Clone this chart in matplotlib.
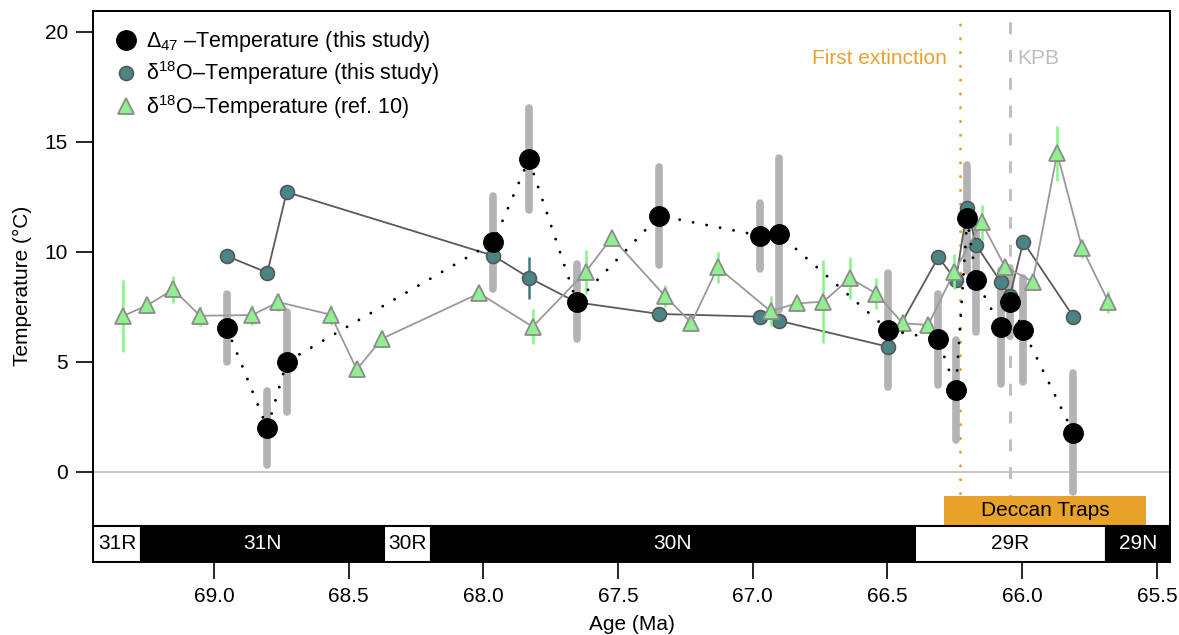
import numpy as np
import matplotlib
matplotlib.use("Agg")
import matplotlib.pyplot as plt
from matplotlib.patches import Rectangle
from matplotlib.lines import Line2D

plt.rcParams['font.family'] = ['Liberation Sans', 'DejaVu Sans']
plt.rcParams['mathtext.fontset'] = 'custom'
plt.rcParams['mathtext.rm'] = 'Liberation Sans'
plt.rcParams['mathtext.it'] = 'Liberation Sans'

# samples of this study (same ages for clumped and d18O temperatures)
sample_age = [68.952, 68.802, 68.730, 67.963, 67.831, 67.654, 67.347, 66.973, 66.902,
              66.497, 66.311, 66.246, 66.204, 66.171, 66.080, 66.045, 65.996, 65.810]
d47_temp = [6.53, 1.97, 5.00, 10.43, 14.20, 7.73, 11.64, 10.73, 10.80,
            6.44, 6.02, 3.71, 11.52, 8.71, 6.59, 7.73, 6.44, 1.77]
d47_err = [1.56, 1.68, 2.27, 2.12, 2.31, 1.70, 2.23, 1.50, 3.45,
           2.60, 2.08, 2.27, 2.40, 2.35, 2.58, 1.55, 2.35, 2.70]
d18o_temp = [9.80, 9.05, 12.71, 9.82, 8.82, 7.70, 7.17, 7.05, 6.86,
             5.68, 9.75, 8.71, 11.97, 10.30, 8.64, 8.00, 10.45, 7.05]
d18o_err = [0, 0, 0, 0, 0.95, 0, 0, 0, 0, 0, 0, 0, 0, 0, 0, 0, 0, 0]

# d18O temperatures from ref. 10
ref_age = [69.337, 69.248, 69.151, 69.052, 68.859, 68.761, 68.567, 68.470, 68.376, 68.015,
           67.817, 67.620, 67.523, 67.326, 67.228, 67.130, 66.934, 66.837, 66.738, 66.639,
           66.541, 66.444, 66.349, 66.252, 66.150, 66.064, 65.961, 65.870, 65.777, 65.680]
ref_temp = [7.08, 7.56, 8.29, 7.09, 7.12, 7.71, 7.14, 4.65, 6.05, 8.11,
            6.59, 9.09, 10.64, 7.99, 6.77, 9.29, 7.30, 7.65, 7.73, 8.79,
            8.10, 6.75, 6.67, 9.09, 11.33, 9.32, 8.64, 14.47, 10.15, 7.73]
ref_err = [1.62, 0.3, 0.6, 0.45, 0.45, 0.4, 0.45, 0.3, 0.4, 0.3,
           0.8, 1.0, 0.3, 0.5, 0.3, 0.7, 0.68, 0.3, 1.9, 0.95,
           0.7, 0.4, 0.3, 0.8, 0.8, 0.3, 0.3, 1.25, 0.45, 0.5]

# magnetochrons (label, start, end, reversed?)
chron_names = ['31R', '31N', '30R', '30N', '29R', '29N']
chron_start = [69.449, 69.270, 68.369, 68.196, 66.398, 65.688]
chron_end = [69.270, 68.369, 68.196, 66.398, 65.688, 65.451]
chron_rev = [True, False, True, False, True, False]

first_extinction = 66.23
kpb = 66.045
deccan = (66.29, 65.54)

xlim = (69.449, 65.451)
ylim = (-4.08, 20.94)

fig = plt.figure(figsize=(11.79, 6.35), dpi=100)
ax = fig.add_axes([0.0789, 0.1157, 0.9135, 0.867])

ax.axhline(0, color='#bdbdbd', lw=1.2, zorder=1)
ax.axvline(first_extinction, color='#e8a030', lw=2.2, dashes=(0.01, 4.5),
           dash_capstyle='round', zorder=1)
ax.axvline(kpb, color='#c0c0c0', lw=2.2, dashes=(3.9, 5.2), zorder=1)
ax.text(66.28, 18.8, 'First extinction', color='#e8a030', fontsize=15,
        ha='right', va='center')
ax.text(66.019, 18.8, 'KPB', color='#bdbdbd', fontsize=15, ha='left', va='center')

# Deccan Traps and chron bar
ax.add_patch(Rectangle((deccan[1], -2.42), deccan[0] - deccan[1], 1.33,
                       facecolor='#e9a229', edgecolor='none', zorder=6))
ax.text(np.mean(deccan), -1.755, 'Deccan Traps', fontsize=15, ha='center',
        va='center', zorder=7)
for name, s, e, rev in zip(chron_names, chron_start, chron_end, chron_rev):
    ax.add_patch(Rectangle((e, ylim[0]), s - e, 1.6,
                           facecolor='white' if rev else 'black',
                           edgecolor='black', lw=1.5, zorder=6))
    ax.text((s + e) / 2, ylim[0] + 0.8, name, fontsize=15, ha='center', va='center',
            color='black' if rev else 'white', zorder=7)

# clumped error bars
lo = np.array(d47_temp) - np.array(d47_err)
hi = np.array(d47_temp) + np.array(d47_err)
ax.vlines(sample_age, lo, hi, colors='#b3b3b3', lw=5.5, capstyle='round', zorder=2)

# d18O this study
ax.plot(sample_age, d18o_temp, color='#5a5a5a', lw=1.3, zorder=3)
for a, t, e in zip(sample_age, d18o_temp, d18o_err):
    if e > 0:
        ax.vlines(a, t - e, t + e, colors='#3f7c7c', lw=1.8, zorder=3)
ax.plot(sample_age, d18o_temp, 'o', ms=10, mfc='#4a8585', mec='#555555', mew=1.2,
        ls='none', zorder=3.5)

# d18O ref. 10
rl = np.array(ref_temp) - np.array(ref_err)
rh = np.array(ref_temp) + np.array(ref_err)
ax.vlines(ref_age, rl, rh, colors='#85f585', lw=1.8, zorder=4)
ax.plot(ref_age, ref_temp, color='#999999', lw=1.3, zorder=4)
ax.plot(ref_age, ref_temp, '^', ms=12, mfc='#90f090', mec='#8c8c8c', mew=1.3,
        ls='none', zorder=4.5)

# clumped temperatures
ax.plot(sample_age, d47_temp, color='black', lw=2.1, dashes=(0.01, 4.7),
        dash_capstyle='round', zorder=5)
ax.plot(sample_age, d47_temp, 'o', ms=14, color='black', ls='none', zorder=5.5)

handles = [
    Line2D([], [], marker='o', ms=14, color='black', ls='none'),
    Line2D([], [], marker='o', ms=10, mfc='#4a8585', mec='#555555', mew=1.2, ls='none'),
    Line2D([], [], marker='^', ms=12, mfc='#90f090', mec='#8c8c8c', mew=1.3, ls='none'),
]
labels = ['Δ$_{47}$ \u2013Temperature (this study)',
          'δ$^{18}$O\u2013Temperature (this study)',
          'δ$^{18}$O\u2013Temperature (ref. 10)']
ax.legend(handles, labels, loc='upper left', bbox_to_anchor=(0.021, 0.967),
          frameon=False, fontsize=15.5, handlelength=1.0, handletextpad=0.4,
          labelspacing=0.25, borderaxespad=0, borderpad=0)

ax.set_xlim(xlim)
ax.set_ylim(ylim)
ax.set_yticks([0, 5, 10, 15, 20])
ax.set_xticks([69.0, 68.5, 68.0, 67.5, 67.0, 66.5, 66.0, 65.5])
ax.set_xticklabels(['69.0', '68.5', '68.0', '67.5', '67.0', '66.5', '66.0', '65.5'])
ax.tick_params(direction='out', length=12, width=1.2, labelsize=15, pad=6)
for sp in ax.spines.values():
    sp.set_linewidth(1.4)
ax.set_xlabel('Age (Ma)', fontsize=15, labelpad=7)
ax.set_ylabel('Temperature (°C)', fontsize=15, labelpad=9)

fig.savefig('out.png', dpi=100)
